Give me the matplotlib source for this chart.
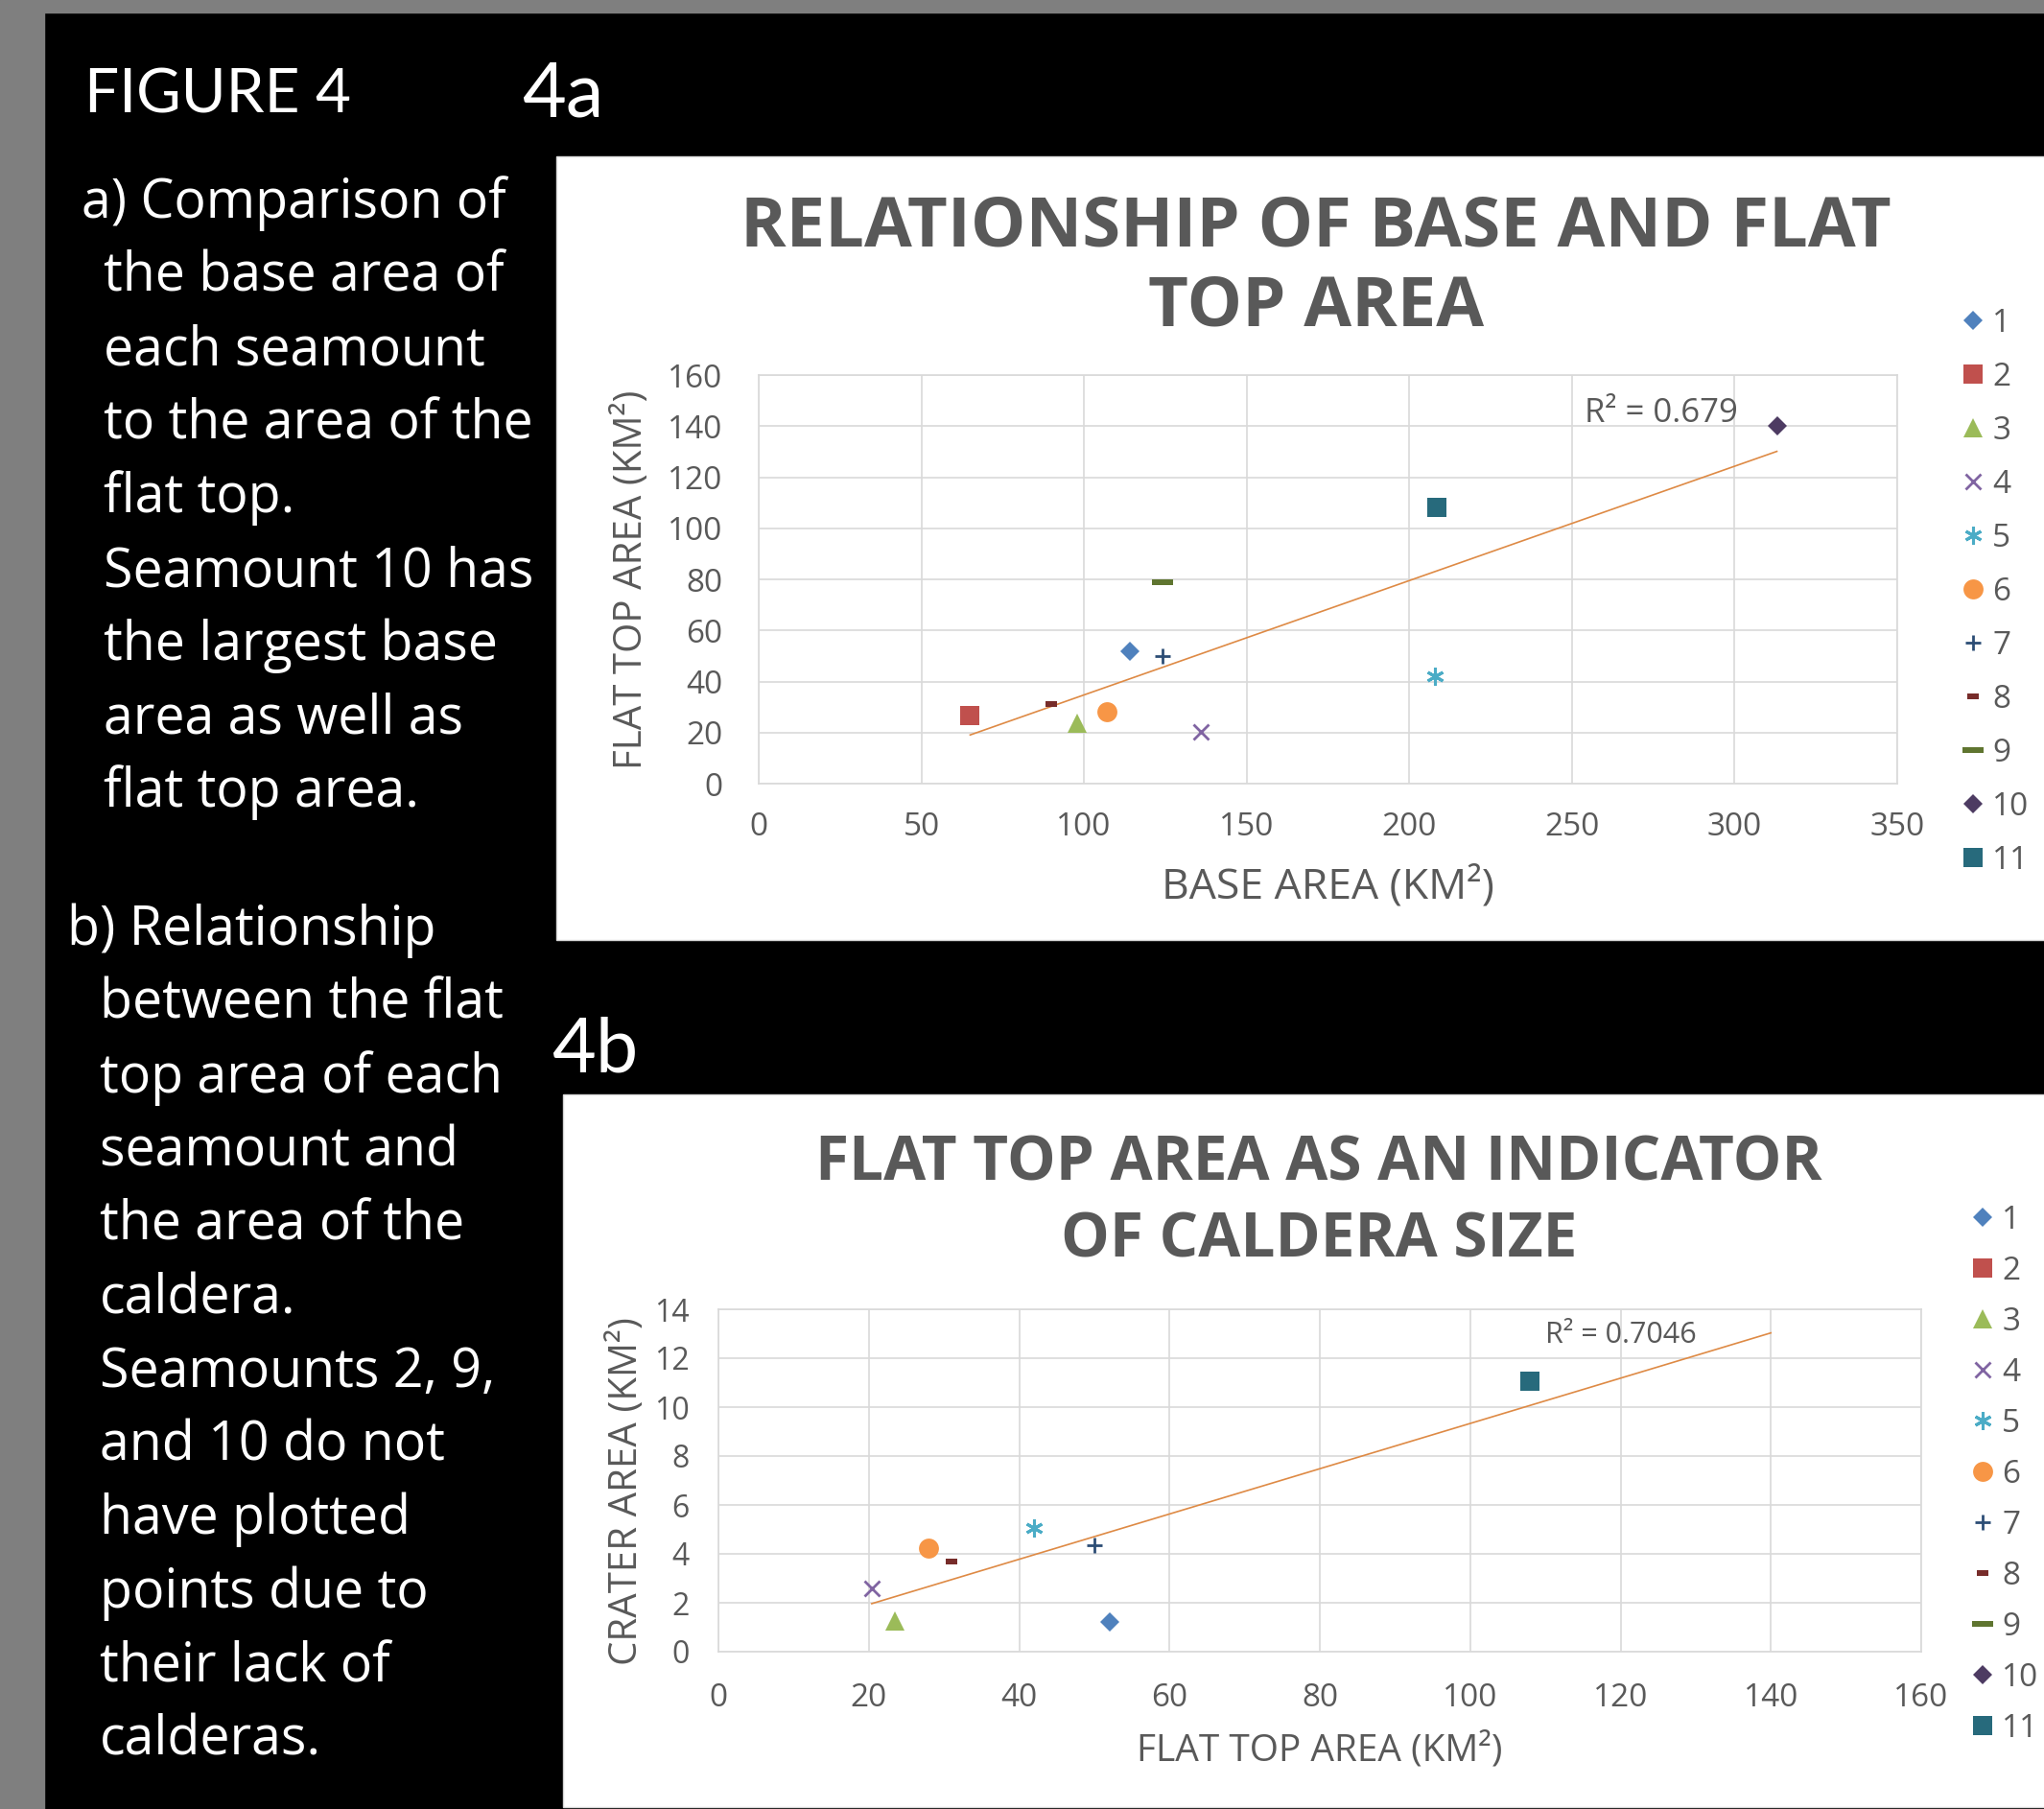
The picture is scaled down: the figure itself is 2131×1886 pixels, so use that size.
import numpy as np
import matplotlib
matplotlib.use("Agg")
import matplotlib.pyplot as plt
from matplotlib.patches import Rectangle

W, H = 2131, 1886
DPI = 100

# ---- data -----------------------------------------------------------------
seamounts = ["1", "2", "3", "4", "5", "6", "7", "8", "9", "10", "11"]
base_area = [114, 65, 98, 136, 208, 107, 124, 90, 124, 313, 208.5]
flat_top_area = [52, 26.5, 23.5, 20.4, 42, 28, 50, 31, 79, 140, 108]
crater_area = [1.23, np.nan, 1.25, 2.6, 5.07, 4.22, 4.35, 3.69, np.nan, np.nan, 11.05]
r2_labels = ["R² = 0.679", "R² = 0.7046"]

text_a = ["a) Comparison of", "the base area of", "each seamount",
          "to the area of the", "flat top.", "Seamount 10 has",
          "the largest base", "area as well as", "flat top area."]
text_b = ["b) Relationship", "between the flat", "top area of each",
          "seamount and", "the area of the", "caldera.",
          "Seamounts 2, 9,", "and 10 do not", "have plotted",
          "points due to", "their lack of", "calderas."]

# ---- styles ---------------------------------------------------------------
colors = ["#4F81BD", "#C0504D", "#9BBB59", "#8064A2", "#4BACC6", "#F79646",
          "#2C4D75", "#772C2A", "#5F7530", "#4D3B62", "#276A7C"]
short_dash = [(-1, -0.55), (1, -0.55), (1, 0.55), (-1, 0.55), (-1, -0.55)]
long_dash = [(-1, -0.28), (1, -0.28), (1, 0.28), (-1, 0.28), (-1, -0.28)]
marker_styles = [
    dict(marker="D", ms=10.5, mew=0),
    dict(marker="s", ms=14.5, mew=0),
    dict(marker="^", ms=14, mew=0),
    dict(marker="x", ms=11, mew=2),
    dict(marker=(6, 2, 0), ms=13, mew=2.2),
    dict(marker="o", ms=15, mew=0),
    dict(marker="+", ms=12, mew=2),
    dict(marker=short_dash, ms=8, mew=0),
    dict(marker=long_dash, ms=16, mew=0),
    dict(marker="D", ms=10.5, mew=0),
    dict(marker="s", ms=14.5, mew=0),
]
GRAY_TXT = "#595959"
GRID = "#D9D9D9"
TREND = "#DE8A45"

plt.rcParams["font.family"] = ["Open Sans", "DejaVu Sans"]

fig = plt.figure(figsize=(W / DPI, H / DPI), dpi=DPI, facecolor="black")


def fx(x):
    return x / W


def fy(y):
    return 1 - y / H


def panel_rect(x0, y0, x1, y1, color, edge=None):
    fig.add_artist(Rectangle((fx(x0), fy(y1)), (x1 - x0) / W, (y1 - y0) / H,
                             transform=fig.transFigure, facecolor=color,
                             edgecolor=edge if edge else color, lw=1,
                             zorder=-5))


# slide frame
panel_rect(0, 0, 46, H, "#7F7F7F")
panel_rect(0, 0, W, 13, "#7F7F7F")
# white chart panels
panel_rect(580, 163, W + 5, 980, "white", GRID)
panel_rect(587, 1141, W + 5, 1884, "white", GRID)

# ---- slide text -------------------------------------------------------------
head_kw = dict(color="white", family=["Lato", "DejaVu Sans"], va="baseline")
body_kw = dict(color="white", family=["Open Sans", "DejaVu Sans"], va="baseline")
fig.text(fx(88), fy(117), "FIGURE 4", fontsize=46, **head_kw)
fig.text(fx(544), fy(121), "4a", fontsize=57, **head_kw)
fig.text(fx(575), fy(1117), "4b", fontsize=57, **head_kw)

for i, line in enumerate(text_a):
    x = 85 if i == 0 else 108
    fig.text(fx(x), fy(227 + 76.8 * i), line, fontsize=40, **body_kw)
for i, line in enumerate(text_b):
    x = 70 if i == 0 else 104
    fig.text(fx(x), fy(985 + 76.8 * i), line, fontsize=40, **body_kw)


def style_axes(ax, xt, yt, xpad, ypad, xsize, ysize):
    ax.set_facecolor("white")
    ax.set_xticks(xt)
    ax.set_yticks(yt)
    ax.set_xlim(xt[0], xt[-1])
    ax.set_ylim(yt[0], yt[-1])
    ax.grid(True, color=GRID, lw=1.2)
    ax.set_axisbelow(True)
    for s in ax.spines.values():
        s.set_color(GRID)
        s.set_linewidth(1.2)
    ax.tick_params(axis="both", length=0, colors=GRAY_TXT)
    ax.tick_params(axis="x", pad=xpad, labelsize=xsize)
    ax.tick_params(axis="y", pad=ypad, labelsize=ysize)


def add_legend(ax, x_px, y_px, spacing):
    ax.legend(loc="upper left", bbox_to_anchor=(fx(x_px), fy(y_px)),
              bbox_transform=fig.transFigure, frameon=False, borderpad=0,
              borderaxespad=0, handlelength=1.0, handletextpad=0.12,
              labelspacing=spacing, fontsize=24, labelcolor=GRAY_TXT,
              numpoints=1)


# ---- chart 4a ---------------------------------------------------------------
ax1 = fig.add_axes([fx(791), fy(817), (1978 - 791) / W, (817 - 391) / H])
style_axes(ax1, np.arange(0, 351, 50), np.arange(0, 161, 20), 21, 27, 24, 24)
for i, name in enumerate(seamounts):
    ax1.plot([base_area[i]], [flat_top_area[i]], linestyle="none",
             color=colors[i], mec=colors[i], label=name, **marker_styles[i])
coef_a = np.polyfit(base_area, flat_top_area, 1)
xs_a = np.array([min(base_area), max(base_area)])
ax1.plot(xs_a, np.polyval(coef_a, xs_a), color=TREND, lw=1.2, zorder=1)
ax1.text(277.5, 145, r2_labels[0], ha="center", va="center",
         fontsize=25, color=GRAY_TXT)
ax1.set_xlabel("BASE AREA (KM²)", fontsize=32, color=GRAY_TXT)
ax1.xaxis.label.set_va("center")
ax1.xaxis.set_label_coords(0.5, -(925 - 817) / 426)
ax1.set_ylabel("FLAT TOP AREA (KM²)", fontsize=29, color=GRAY_TXT)
ax1.yaxis.label.set_va("center")
ax1.yaxis.set_label_coords(-(791 - 659) / 1187, 0.5)
fig.text(fx(1372), fy(279), "RELATIONSHIP OF BASE AND FLAT\nTOP AREA",
         ha="center", va="center", multialignment="center", fontsize=52,
         fontweight="bold", color=GRAY_TXT, linespacing=1.2)
add_legend(ax1, 2040, 321, 0.69)

# ---- chart 4b ---------------------------------------------------------------
ax2 = fig.add_axes([fx(749), fy(1722), (2003 - 749) / W, (1722 - 1365) / H])
style_axes(ax2, np.arange(0, 161, 20), np.arange(0, 15, 2), 23, 22, 24, 23)
for i, name in enumerate(seamounts):
    ax2.plot([flat_top_area[i]], [crater_area[i]], linestyle="none",
             color=colors[i], mec=colors[i], label=name, **marker_styles[i])
ft = np.array(flat_top_area)
ca = np.array(crater_area)
valid = ~np.isnan(ca)
coef_b = np.polyfit(ft[valid], ca[valid], 1)
# trend carried forward to the largest flat-top area in the set
xs_b = np.array([ft[valid].min(), ft.max()])
ax2.plot(xs_b, np.polyval(coef_b, xs_b), color=TREND, lw=1.2, zorder=1)
ax2.text(120.1, 12.96, r2_labels[1], ha="center", va="center",
         fontsize=22, color=GRAY_TXT)
ax2.set_xlabel("FLAT TOP AREA (KM²)", fontsize=28, color=GRAY_TXT)
ax2.xaxis.label.set_va("center")
ax2.xaxis.set_label_coords(0.5, -(1825 - 1722) / 357)
ax2.set_ylabel("CRATER AREA (KM²)", fontsize=29, color=GRAY_TXT)
ax2.yaxis.label.set_va("center")
ax2.yaxis.set_label_coords(-(749 - 654) / 1254, 0.47)
fig.text(fx(1375), fy(1254), "FLAT TOP AREA AS AN INDICATOR\nOF CALDERA SIZE",
         ha="center", va="center", multialignment="center", fontsize=46,
         fontweight="bold", color=GRAY_TXT, linespacing=1.32)
add_legend(ax2, 2050, 1256, 0.60)

fig.savefig("out.png", dpi=DPI, facecolor="black")
